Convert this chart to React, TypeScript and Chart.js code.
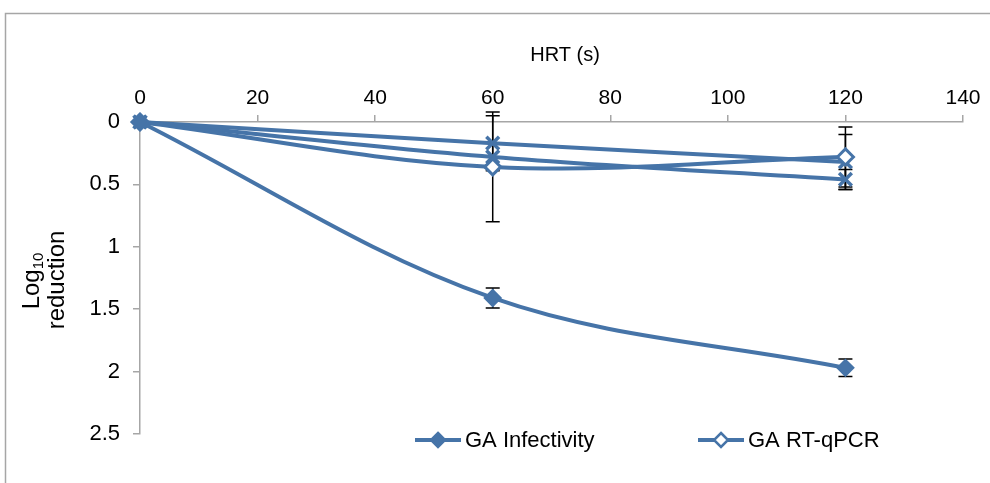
import { useEffect, useRef } from "react";
import { Chart, registerables } from "chart.js";
Chart.register(...registerables);

const hrt = [0, 60, 120];
const gaInfectivity = [0, 1.41, 1.97];
const gaInfectivityErr = [0, 0.08, 0.07];
const gaRtqpcr = [0, 0.36, 0.28];
const gaRtqpcrErr = [0, 0.44, 0.24];
const series3 = [0, 0.17, 0.32];
const series3Err = [0, 0.22, 0.22];
const series4 = [0, 0.28, 0.46];
const series4Err = [0, 0, 0.08];
const xTitle = "HRT (s)";
const yTitleMain = "Log";
const yTitleSub = "10";
const yTitle2 = "reduction";

const BLUE = "#4674a8";
const GRAY = "#a6a6a6";
const FONT = "'Liberation Sans', Arial, sans-serif";

const pts = (ys: number[]) => hrt.map((x, i) => ({ x, y: ys[i] }));

export default function App() {
  const ref = useRef<HTMLCanvasElement>(null);
  useEffect(() => {
    const errs = [gaInfectivityErr, gaRtqpcrErr, series3Err, series4Err];
    const errorBars = {
      id: "errorBars",
      beforeDatasetsDraw(chart: any) {
        const ctx = chart.ctx;
        const ys = chart.scales.y;
        ctx.save();
        ctx.strokeStyle = "#000";
        ctx.lineWidth = 1.5;
        chart.data.datasets.forEach((ds: any, di: number) => {
          const meta = chart.getDatasetMeta(di);
          ds.data.forEach((p: any, i: number) => {
            const e = errs[di][i];
            if (!e) return;
            const x = meta.data[i].x;
            const y1 = ys.getPixelForValue(p.y - e);
            const y2 = ys.getPixelForValue(p.y + e);
            ctx.beginPath();
            ctx.moveTo(x, y1);
            ctx.lineTo(x, y2);
            ctx.moveTo(x - 7, y1);
            ctx.lineTo(x + 7, y1);
            ctx.moveTo(x - 7, y2);
            ctx.lineTo(x + 7, y2);
            ctx.stroke();
          });
        });
        ctx.restore();
      },
    };
    const decor = {
      id: "decor",
      beforeDraw(chart: any) {
        const ctx = chart.ctx;
        ctx.save();
        ctx.strokeStyle = GRAY;
        ctx.lineWidth = 1.5;
        ctx.strokeRect(5.5, 13.5, 1200, 1000);
        ctx.restore();
      },
      afterDraw(chart: any) {
        const ctx = chart.ctx;
        ctx.save();
        ctx.fillStyle = "#000";
        // x axis title
        ctx.font = `20px ${FONT}`;
        ctx.textAlign = "center";
        ctx.textBaseline = "middle";
        ctx.fillText(xTitle, 565, 55);
        // y axis title
        ctx.save();
        ctx.translate(32, 281);
        ctx.rotate(-Math.PI / 2);
        ctx.textBaseline = "middle";
        ctx.font = `24px ${FONT}`;
        const wLog = ctx.measureText(yTitleMain).width;
        ctx.font = `15px ${FONT}`;
        const w10 = ctx.measureText(yTitleSub).width;
        const start = -(wLog + w10) / 2;
        ctx.font = `24px ${FONT}`;
        ctx.textAlign = "left";
        ctx.fillText(yTitleMain, start, 0);
        ctx.font = `15px ${FONT}`;
        ctx.fillText(yTitleSub, start + wLog, 7);
        ctx.restore();
        ctx.save();
        ctx.translate(57, 280);
        ctx.rotate(-Math.PI / 2);
        ctx.textAlign = "center";
        ctx.textBaseline = "middle";
        ctx.font = `24px ${FONT}`;
        ctx.fillText(yTitle2, 0, 0);
        ctx.restore();
        // legend
        const items = [
          { label: chart.data.datasets[0].label, x: 415, fill: BLUE },
          { label: chart.data.datasets[1].label, x: 698, fill: "#fff" },
        ];
        const ly = 440;
        items.forEach((it) => {
          ctx.strokeStyle = BLUE;
          ctx.lineWidth = 4;
          ctx.beginPath();
          ctx.moveTo(it.x, ly);
          ctx.lineTo(it.x + 46, ly);
          ctx.stroke();
          const cx = it.x + 23;
          ctx.beginPath();
          ctx.moveTo(cx, ly - 7);
          ctx.lineTo(cx + 7, ly);
          ctx.lineTo(cx, ly + 7);
          ctx.lineTo(cx - 7, ly);
          ctx.closePath();
          ctx.fillStyle = it.fill;
          ctx.fill();
          ctx.lineWidth = 2.5;
          ctx.stroke();
          ctx.fillStyle = "#000";
          ctx.font = `22px ${FONT}`;
          ctx.textAlign = "left";
          ctx.textBaseline = "middle";
          ctx.fillText(it.label, it.x + 50, ly + 1);
        });
        ctx.restore();
      },
    };
    const common = {
      borderColor: BLUE,
      borderWidth: 4,
      tension: 0.35,
      clip: false as any,
      pointBorderColor: BLUE,
    };
    const chart = new Chart(ref.current!, {
      type: "line",
      data: {
        datasets: [
          {
            ...common,
            label: "GA Infectivity",
            data: pts(gaInfectivity),
            pointStyle: "rectRot",
            pointRadius: 8,
            pointBorderWidth: 2,
            pointBackgroundColor: BLUE,
          },
          {
            ...common,
            label: "GA RT-qPCR",
            data: pts(gaRtqpcr),
            pointStyle: "rectRot",
            pointRadius: 8,
            pointBorderWidth: 3,
            pointBackgroundColor: "#fff",
          },
          {
            ...common,
            label: "Series 3",
            data: pts(series3),
            pointStyle: "crossRot",
            pointRadius: 9,
            pointBorderWidth: 3.5,
            pointBackgroundColor: BLUE,
          },
          {
            ...common,
            label: "Series 4",
            data: pts(series4),
            pointStyle: "crossRot",
            pointRadius: 9,
            pointBorderWidth: 3.5,
            pointBackgroundColor: BLUE,
          },
        ],
      },
      options: {
        animation: false,
        responsive: false,
        devicePixelRatio: 1,
        layout: { padding: { top: 0, left: 0, right: 27, bottom: 49 } },
        plugins: { legend: { display: false }, tooltip: { enabled: false } },
        scales: {
          x: {
            type: "linear",
            position: "top",
            min: 0,
            max: 140,
            ticks: { stepSize: 20, color: "#000", font: { size: 21, family: FONT }, padding: 4, maxRotation: 0 },
            grid: { drawOnChartArea: false, drawTicks: true, tickLength: 7, color: GRAY, lineWidth: 1.5 },
            border: { color: GRAY, width: 1.5 },
            afterFit: (s: any) => { s.height = 122; },
          },
          y: {
            type: "linear",
            reverse: true,
            min: 0,
            max: 2.5,
            ticks: { stepSize: 0.5, color: "#000", font: { size: 22, family: FONT }, padding: 13, callback: (v: any) => `${v}` },
            grid: { drawOnChartArea: false, drawTicks: true, tickLength: 7, color: GRAY, lineWidth: 1.5 },
            border: { color: GRAY, width: 1.5 },
            afterFit: (s: any) => { s.width = 140; },
          },
        },
      },
      plugins: [errorBars, decor],
    });
    return () => chart.destroy();
  }, []);
  return (
    <div style={{ position: "fixed", left: 0, top: 0, width: 990, height: 483, background: "#fff" }}>
      <canvas ref={ref} width={990} height={483} style={{ width: 990, height: 483 }} />
    </div>
  );
}
